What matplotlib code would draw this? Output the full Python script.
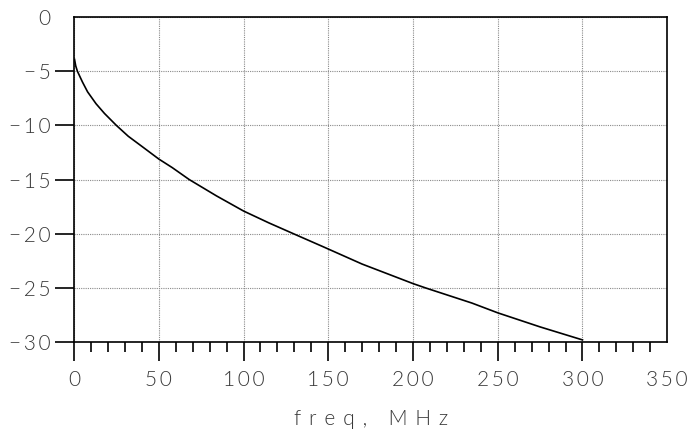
import numpy as np
import matplotlib.pyplot as plt
from matplotlib.ticker import MultipleLocator

# attenuation curve
freq = [0.3, 1, 2, 5, 8, 13, 18, 25, 32, 40.6, 50, 58, 68, 84, 100, 115,
        129.5, 147, 170, 200, 207.4, 234.8, 250, 275, 300]
atten = [-3.9, -4.5, -5.0, -6.0, -6.9, -8.0, -8.9, -10.0, -11.0, -12.0, -13.1,
         -13.9, -15.0, -16.5, -17.9, -19.0, -20.0, -21.2, -22.8, -24.6, -25.0,
         -26.4, -27.3, -28.6, -29.8]

xticks = [0, 50, 100, 150, 200, 250, 300, 350]
yticks = [-30, -25, -20, -15, -10, -5, 0]
xlabel = 'freq, MHz'

txt_color = '#383838'
fam = ['Lato', 'DejaVu Sans']


def spaced(s, gap='\u2009'):
    return gap.join(s)


fig = plt.figure(figsize=(6.93, 4.38), dpi=100)
ax = fig.add_axes([0.1068, 0.219, 0.856, 0.742])

ax.plot(freq, atten, color='black', lw=1.2)

ax.set_xlim(0, 350)
ax.set_ylim(-30, 0)
ax.set_xticks(xticks)
ax.set_yticks(yticks)
ax.set_xticklabels([spaced(str(v)) for v in xticks])
ax.set_yticklabels([spaced(str(v).replace('-', '\u2212')) for v in yticks])
ax.xaxis.set_minor_locator(MultipleLocator(10))

for lab in ax.get_xticklabels() + ax.get_yticklabels():
    lab.set_family(fam)
    lab.set_weight(300)

ax.grid(True, which='major', color='#8a8a8a', lw=0.8, linestyle=(0, (1, 1)))

for s in ax.spines.values():
    s.set_linewidth(1.2)
    s.set_color('black')

ax.tick_params(axis='x', which='major', direction='out', length=14, width=1.2,
               pad=6, labelsize=15, labelcolor=txt_color, top=False)
ax.tick_params(axis='x', which='minor', direction='out', length=7, width=1.2, top=False)
ax.tick_params(axis='y', which='major', direction='out', length=14, width=1.2,
               pad=3, labelsize=15, labelcolor=txt_color, right=False)

# no tick mark at the 0 label
ax.yaxis.get_major_ticks()[-1].tick1line.set_visible(False)
# no minor tick at the right border
ax.xaxis.get_major_ticks()[-1].tick1line.set_visible(False)

ax.set_xlabel(spaced(xlabel, '\u2009\u2009\u2009'), fontsize=15, color=txt_color,
              labelpad=14, family=fam, weight=300)

fig.savefig('out.png', dpi=100)
